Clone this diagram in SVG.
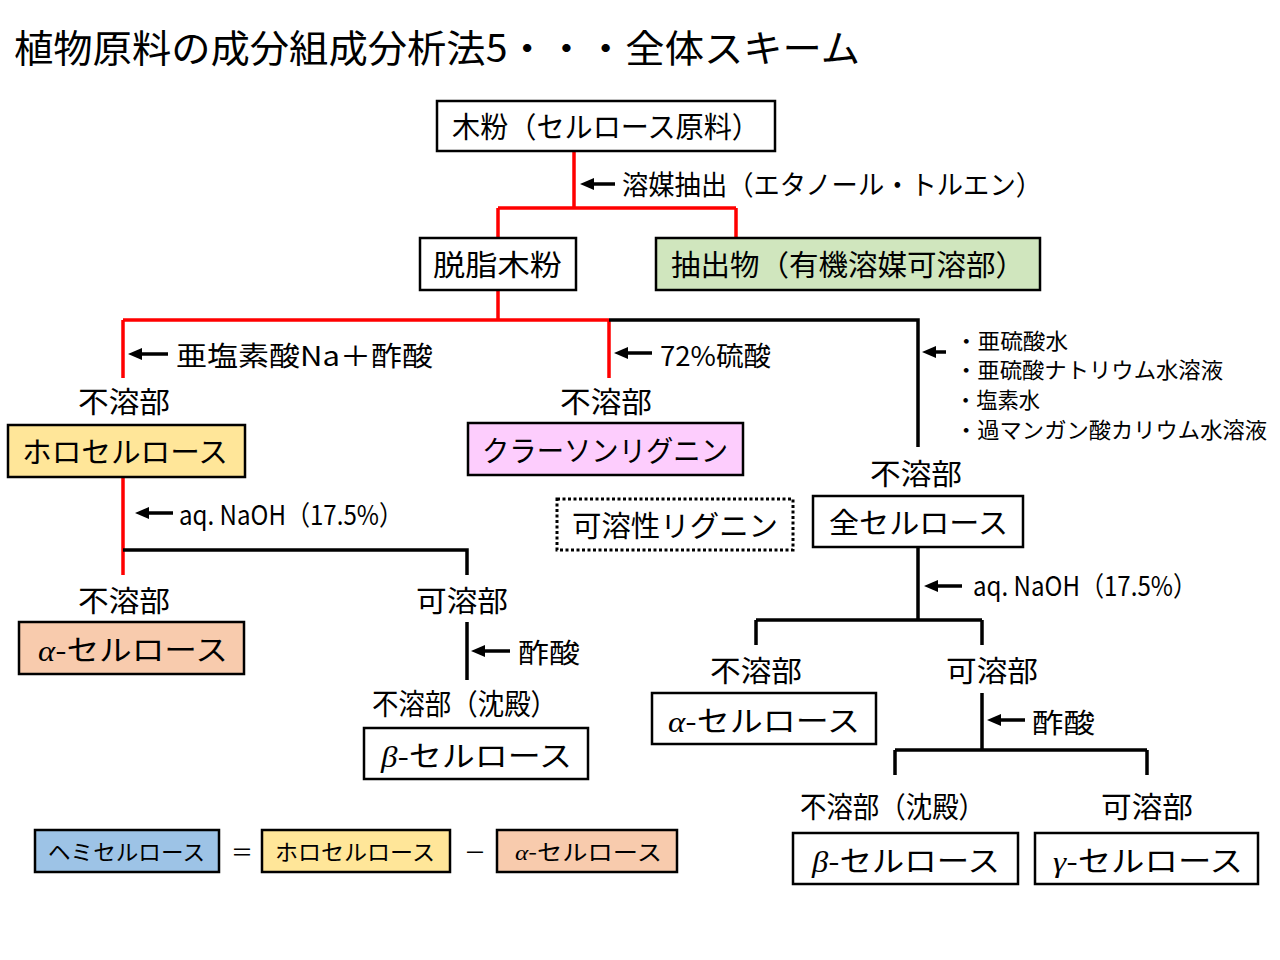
<svg xmlns="http://www.w3.org/2000/svg" width="1280" height="960" viewBox="0 0 1280 960">
<defs>
<marker id="ah" markerUnits="userSpaceOnUse" markerWidth="16" markerHeight="12" refX="4" refY="6" orient="auto">
<path d="M0,0 L14,6 L0,12 Z" fill="#000"/>
</marker>
<style>
text{font-family:"Noto Sans CJK JP","Noto Sans",sans-serif;fill:#000;}
.t{font-size:29px;}
.s{font-size:27px;}
.l{font-size:22px;}
.g{font-family:"Liberation Serif",serif;font-style:italic;}
.box{stroke:#000;stroke-width:2.5;fill:#fff;}
.red{stroke:#ff0000;stroke-width:3.5;fill:none;}
.blk{stroke:#000;stroke-width:3.5;fill:none;}
.arr{stroke:#000;stroke-width:3.5;fill:none;marker-end:url(#ah);}
</style>
</defs>
<rect width="1280" height="960" fill="#fff"/>
<text x="14" y="62" style="font-size:38px" textLength="846" lengthAdjust="spacingAndGlyphs">植物原料の成分組成分析法5・・・全体スキーム</text>

<g id="connectors">
<path class="red" d="M574 151 V208 M498 208 H736 M498 208 V238 M736 208 V238 M498 290 V320 M123 320 H609 M123 320 V378 M609 320 V378 M123 477 V575"/>
<path class="blk" d="M609 320 H918 V447 M123 550 H467 V575 M467 622 V680 M918 547 V620 M756 620 H982 M756 620 V645 M982 620 V645 M982 693 V750 M895 750 H1147 M895 750 V775 M1147 750 V775"/>
<line class="arr" x1="615" y1="184" x2="590" y2="184"/>
<line class="arr" x1="168" y1="354" x2="138" y2="354"/>
<line class="arr" x1="652" y1="353" x2="624" y2="353"/>
<line class="arr" x1="946" y1="352" x2="932" y2="352"/>
<line class="arr" x1="173" y1="513" x2="145" y2="513"/>
<line class="arr" x1="510" y1="651" x2="481" y2="651"/>
<line class="arr" x1="962" y1="586" x2="934" y2="586"/>
<line class="arr" x1="1025" y1="720" x2="997" y2="720"/>
</g>

<g id="label-solvent"><text class="s" x="622" y="195" textLength="420" lengthAdjust="spacingAndGlyphs">溶媒抽出（エタノール・トルエン）</text></g>
<g id="label-chlorite"><text class="s" x="176" y="366" textLength="257" lengthAdjust="spacingAndGlyphs">亜塩素酸Na＋酢酸</text></g>
<g id="label-h2so4"><text class="s" x="660" y="366" textLength="111" lengthAdjust="spacingAndGlyphs">72%硫酸</text></g>
<g id="label-list">
<text class="l" x="955" y="349" textLength="113" lengthAdjust="spacingAndGlyphs">・亜硫酸水</text>
<text class="l" x="955" y="378" textLength="268" lengthAdjust="spacingAndGlyphs">・亜硫酸ナトリウム水溶液</text>
<text class="l" x="955" y="408" textLength="85" lengthAdjust="spacingAndGlyphs">・塩素水</text>
<text class="l" x="955" y="438" textLength="312" lengthAdjust="spacingAndGlyphs">・過マンガン酸カリウム水溶液</text>
</g>
<g id="label-naoh-left"><text class="s" x="179" y="525" textLength="224" lengthAdjust="spacingAndGlyphs">aq. NaOH（17.5%）</text></g>
<g id="label-acetic-left"><text class="s" x="518" y="663" textLength="62" lengthAdjust="spacingAndGlyphs">酢酸</text></g>
<g id="label-naoh-right"><text class="s" x="973" y="596" textLength="224" lengthAdjust="spacingAndGlyphs">aq. NaOH（17.5%）</text></g>
<g id="label-acetic-right"><text class="s" x="1032" y="733" textLength="63" lengthAdjust="spacingAndGlyphs">酢酸</text></g>

<g id="n-wood">
<rect class="box" x="437" y="101" width="338" height="50"/>
<text class="t" x="452" y="138" textLength="308" lengthAdjust="spacingAndGlyphs">木粉（セルロース原料）</text>
</g>
<g id="n-dewaxed">
<rect class="box" x="420" y="238" width="156" height="52"/>
<text class="t" x="433" y="276" textLength="129" lengthAdjust="spacingAndGlyphs">脱脂木粉</text>
</g>
<g id="n-extract">
<rect class="box" x="656" y="238" width="384" height="52" style="fill:#d0e6be"/>
<text class="t" x="671" y="276" textLength="354" lengthAdjust="spacingAndGlyphs">抽出物（有機溶媒可溶部）</text>
</g>
<g id="n-holo">
<text class="t" x="78" y="413" textLength="92" lengthAdjust="spacingAndGlyphs">不溶部</text>
<rect class="box" x="8" y="425" width="237" height="52" style="fill:#ffe699"/>
<text class="t" x="22" y="463" textLength="206" lengthAdjust="spacingAndGlyphs">ホロセルロース</text>
</g>
<g id="n-klason">
<text class="t" x="560" y="413" textLength="92" lengthAdjust="spacingAndGlyphs">不溶部</text>
<rect class="box" x="468" y="423" width="275" height="52" style="fill:#fdcdfd"/>
<text class="t" x="482" y="462" textLength="246" lengthAdjust="spacingAndGlyphs">クラーソンリグニン</text>
</g>
<g id="n-soluble-lignin">
<rect x="557" y="499" width="236" height="51" fill="#fff" stroke="#000" stroke-width="3" stroke-dasharray="3 2.5"/>
<text class="t" x="572" y="537" textLength="206" lengthAdjust="spacingAndGlyphs">可溶性リグニン</text>
</g>
<g id="n-total-cellulose">
<text class="t" x="870" y="485" textLength="92" lengthAdjust="spacingAndGlyphs">不溶部</text>
<rect class="box" x="813" y="496" width="210" height="51"/>
<text class="t" x="829" y="534" textLength="179" lengthAdjust="spacingAndGlyphs">全セルロース</text>
</g>
<g id="n-alpha-left">
<text class="t" x="78" y="612" textLength="92" lengthAdjust="spacingAndGlyphs">不溶部</text>
<rect class="box" x="19" y="622" width="225" height="52" style="fill:#f8cbad"/>
<text class="t" x="38" y="661" textLength="190" lengthAdjust="spacingAndGlyphs"><tspan class="g">α</tspan><tspan>-セルロース</tspan></text>
</g>
<g id="n-beta-left">
<text class="t" x="416" y="612" textLength="92" lengthAdjust="spacingAndGlyphs">可溶部</text>
<text class="t" x="372" y="715" textLength="185" lengthAdjust="spacingAndGlyphs">不溶部（沈殿）</text>
<rect class="box" x="364" y="728" width="224" height="51"/>
<text class="t" x="381" y="767" textLength="191" lengthAdjust="spacingAndGlyphs"><tspan class="g">β</tspan><tspan>-セルロース</tspan></text>
</g>
<g id="n-alpha-right">
<text class="t" x="710" y="682" textLength="92" lengthAdjust="spacingAndGlyphs">不溶部</text>
<rect class="box" x="652" y="693" width="224" height="51"/>
<text class="t" x="668" y="732" textLength="192" lengthAdjust="spacingAndGlyphs"><tspan class="g">α</tspan><tspan>-セルロース</tspan></text>
</g>
<g id="n-soluble-right">
<text class="t" x="946" y="682" textLength="92" lengthAdjust="spacingAndGlyphs">可溶部</text>
</g>
<g id="n-beta-right">
<text class="t" x="800" y="818" textLength="185" lengthAdjust="spacingAndGlyphs">不溶部（沈殿）</text>
<rect class="box" x="793" y="833" width="225" height="51"/>
<text class="t" x="812" y="872" textLength="188" lengthAdjust="spacingAndGlyphs"><tspan class="g">β</tspan><tspan>-セルロース</tspan></text>
</g>
<g id="n-gamma-right">
<text class="t" x="1101" y="818" textLength="92" lengthAdjust="spacingAndGlyphs">可溶部</text>
<rect class="box" x="1035" y="833" width="223" height="51"/>
<text class="t" x="1053" y="872" textLength="190" lengthAdjust="spacingAndGlyphs"><tspan class="g">γ</tspan><tspan>-セルロース</tspan></text>
</g>
<g id="legend">
<rect class="box" x="35" y="830" width="184" height="42" style="fill:#9dc3e6"/>
<text class="l" x="48" y="860" textLength="157" lengthAdjust="spacingAndGlyphs">ヘミセルロース</text>
<text class="l" x="231" y="860">＝</text>
<rect class="box" x="262" y="830" width="188" height="42" style="fill:#ffe699"/>
<text class="l" x="275" y="860" textLength="160" lengthAdjust="spacingAndGlyphs">ホロセルロース</text>
<text class="l" x="464" y="860">－</text>
<rect class="box" x="497" y="830" width="180" height="42" style="fill:#f8cbad"/>
<text class="l" x="515" y="860" textLength="147" lengthAdjust="spacingAndGlyphs"><tspan class="g">α</tspan><tspan>-セルロース</tspan></text>
</g>
</svg>
